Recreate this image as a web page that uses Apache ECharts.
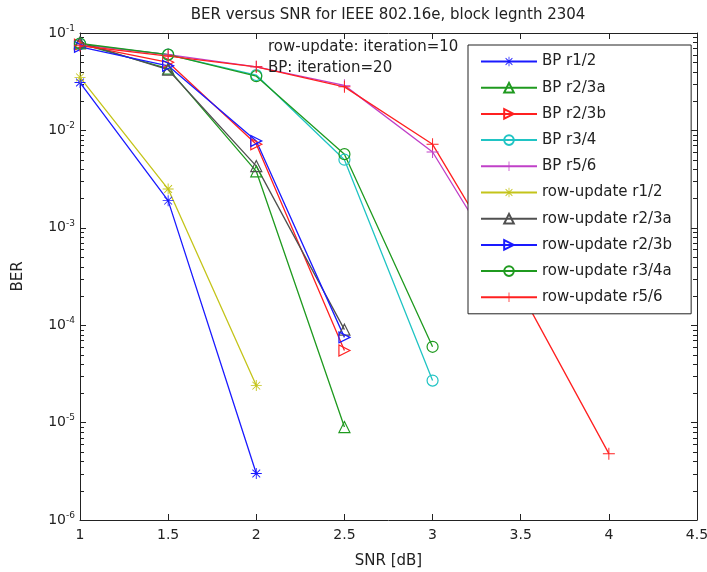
<!DOCTYPE html>
<html>
<head>
<meta charset="utf-8">
<script src="https://cdn.jsdelivr.net/npm/echarts@6/dist/echarts.min.js"></script>
<style>
  html, body { margin: 0; padding: 0; background: #fff; }
  #chart { width: 707px; height: 572px; }
</style>
</head>
<body>
<div id="chart"></div>
<script>
// SNR points (dB)
const snr3 = [1, 1.5, 2]
const snr4 = [1, 1.5, 2, 2.5]
const snr5 = [1, 1.5, 2, 2.5, 3]
const snr6 = [1, 1.5, 2, 2.5, 3, 3.5]
const snr7 = [1, 1.5, 2, 2.5, 3, 3.5, 4]

// BER values
const berBP12 = [0.031, 0.0019, 3.0e-6]
const berBP23a = [0.078, 0.043, 0.0038, 9.0e-6]
const berBP23b = [0.076, 0.05, 0.0072, 5.5e-5]
const berBP34 = [0.077, 0.06, 0.037, 0.005, 2.7e-5]
const berBP56 = [0.076, 0.06, 0.045, 0.029, 0.006, 2.0e-4]
const berRU12 = [0.035, 0.0025, 2.4e-5]
const berRU23a = [0.08, 0.042, 0.0043, 9.0e-5]
const berRU23b = [0.072, 0.046, 0.0078, 7.5e-5]
const berRU34a = [0.078, 0.06, 0.036, 0.0057, 6.0e-5]
const berRU56 = [0.074, 0.058, 0.045, 0.028, 0.0072, 2.2e-4, 4.8e-6]

const names = ['BP r1/2', 'BP r2/3a', 'BP r2/3b', 'BP r3/4', 'BP r5/6',
  'row-update r1/2', 'row-update r2/3a', 'row-update r2/3b', 'row-update r3/4a', 'row-update r5/6']

// minor tick positions on the log axis (2..9 in each decade)
const minorTicks = [
  2e-6, 3e-6, 4e-6, 5e-6, 6e-6, 7e-6, 8e-6, 9e-6,
  2e-5, 3e-5, 4e-5, 5e-5, 6e-5, 7e-5, 8e-5, 9e-5,
  2e-4, 3e-4, 4e-4, 5e-4, 6e-4, 7e-4, 8e-4, 9e-4,
  2e-3, 3e-3, 4e-3, 5e-3, 6e-3, 7e-3, 8e-3, 9e-3,
  2e-2, 3e-2, 4e-2, 5e-2, 6e-2, 7e-2, 8e-2, 9e-2
]

const STAR = 'path://M9.2,0h1.6v20h-1.6zM0,9.2h20v1.6h-20zM3.5,2.4L17.6,16.5L16.5,17.6L2.4,3.5zM16.5,2.4L17.6,3.5L3.5,17.6L2.4,16.5z'
const PLUS = 'path://M9.2,0h1.6v20h-1.6zM0,9.2h20v1.6h-20z'

const FONT = 'DejaVu Sans'

function pts(xs, ys) {
  return xs.map((x, i) => [x, ys[i]])
}

function mk(name, data, color, symbol, size, rotate) {
  let hollow = symbol == 'triangle' || symbol == 'circle'
  return {
    name: name,
    type: 'line',
    data: data,
    symbol: symbol,
    symbolSize: size,
    symbolRotate: rotate || 0,
    showSymbol: true,
    lineStyle: { color: color, width: 1.3 },
    itemStyle: hollow
      ? { color: 'rgba(255,255,255,0)', borderColor: color, borderWidth: 1.2 }
      : { color: color, borderWidth: 0 },
    emphasis: { disabled: true },
    animation: false
  }
}

const chart = echarts.init(document.getElementById('chart'), null, { renderer: 'canvas' })

const axisLine = { show: true, lineStyle: { color: '#222', width: 1 } }

const option = {
  backgroundColor: '#fff',
  animation: false,
  grid: { left: 80, right: 10, top: 33, bottom: 52, outerBoundsMode: 'none' },
  graphic: [
    { type: 'text', x: 388, y: 15, style: { text: 'BER versus SNR for IEEE 802.16e, block legnth 2304', font: '15px "DejaVu Sans"', fill: '#222', textAlign: 'center', textVerticalAlign: 'middle' } },
    { type: 'text', x: 268, y: 47, z: 10, style: { text: 'row-update: iteration=10', font: '15px "DejaVu Sans"', fill: '#222', textVerticalAlign: 'middle' } },
    { type: 'text', x: 268, y: 68, z: 10, style: { text: 'BP: iteration=20', font: '15px "DejaVu Sans"', fill: '#222', textVerticalAlign: 'middle' } }
  ],
  legend: {
    data: names,
    orient: 'vertical',
    left: 468,
    top: 45,
    itemWidth: 56,
    itemHeight: 12,
    itemGap: 11.2,
    padding: [9, 19, 9, 12],
    backgroundColor: '#fff',
    borderColor: '#222',
    borderWidth: 1,
    textStyle: { fontFamily: FONT, fontSize: 15, color: '#222' },
    z: 20
  },
  xAxis: [{
    type: 'value', min: 1, max: 4.5, interval: 0.5,
    name: 'SNR [dB]', nameLocation: 'middle', nameGap: 34,
    nameTextStyle: { fontFamily: FONT, fontSize: 15, color: '#222' },
    axisLine: axisLine,
    axisTick: { inside: true, length: 6, lineStyle: { color: '#222' } },
    axisLabel: { fontFamily: FONT, fontSize: 14, color: '#222', margin: 8 },
    splitLine: { show: false }
  }, {
    type: 'value', min: 1, max: 4.5, interval: 0.5, position: 'top',
    axisLine: axisLine,
    axisTick: { inside: true, length: 6, lineStyle: { color: '#222' } },
    axisLabel: { show: false },
    splitLine: { show: false }
  }],
  yAxis: [{
    type: 'log', logBase: 10, min: 1e-6, max: 1e-1,
    name: 'BER', nameLocation: 'middle', nameGap: 54,
    nameTextStyle: { fontFamily: FONT, fontSize: 15, color: '#222' },
    axisLine: axisLine,
    axisTick: { inside: true, length: 6, lineStyle: { color: '#222' } },
    axisLabel: {
      margin: 5,
      formatter: v => '{b|10}{s|' + Math.round(Math.log10(v)) + '}',
      rich: {
        b: { fontFamily: FONT, fontSize: 14, color: '#222' },
        s: { fontFamily: FONT, fontSize: 9, color: '#222', verticalAlign: 'top', padding: [0, 0, 9, 0] }
      }
    },
    splitLine: { show: false }
  }, {
    type: 'log', logBase: 10, min: 1e-6, max: 1e-1, position: 'right',
    axisLine: axisLine,
    axisTick: { inside: true, length: 6, lineStyle: { color: '#222' } },
    axisLabel: { show: false },
    splitLine: { show: false }
  }],
  series: [
    mk('BP r1/2', pts(snr3, berBP12), '#1a1aff', STAR, 11),
    mk('BP r2/3a', pts(snr4, berBP23a), '#1f9a1f', 'triangle', 11),
    mk('BP r2/3b', pts(snr4, berBP23b), '#ff2020', 'triangle', 11, -90),
    mk('BP r3/4', pts(snr5, berBP34), '#20c4c4', 'circle', 11),
    mk('BP r5/6', pts(snr6, berBP56), '#c040c8', PLUS, 12),
    mk('row-update r1/2', pts(snr3, berRU12), '#c4c41a', STAR, 11),
    mk('row-update r2/3a', pts(snr4, berRU23a), '#505050', 'triangle', 11),
    mk('row-update r2/3b', pts(snr4, berRU23b), '#1a1aff', 'triangle', 11, -90),
    mk('row-update r3/4a', pts(snr5, berRU34a), '#1f9a1f', 'circle', 11),
    mk('row-update r5/6', pts(snr7, berRU56), '#ff2020', PLUS, 12),
    {
      type: 'custom',
      name: 'minorTicks',
      silent: true,
      data: minorTicks.map(v => [1, v]),
      renderItem: function (params, api) {
        let y = Math.round(api.coord([1, api.value(1)])[1]) + 0.5
        let cs = params.coordSys
        return {
          type: 'group',
          children: [
            { type: 'line', shape: { x1: cs.x, y1: y, x2: cs.x + 4, y2: y }, style: { stroke: '#222', lineWidth: 1 } },
            { type: 'line', shape: { x1: cs.x + cs.width - 4, y1: y, x2: cs.x + cs.width, y2: y }, style: { stroke: '#222', lineWidth: 1 } }
          ]
        }
      }
    }
  ]
}

chart.setOption(option)
</script>
</body>
</html>
